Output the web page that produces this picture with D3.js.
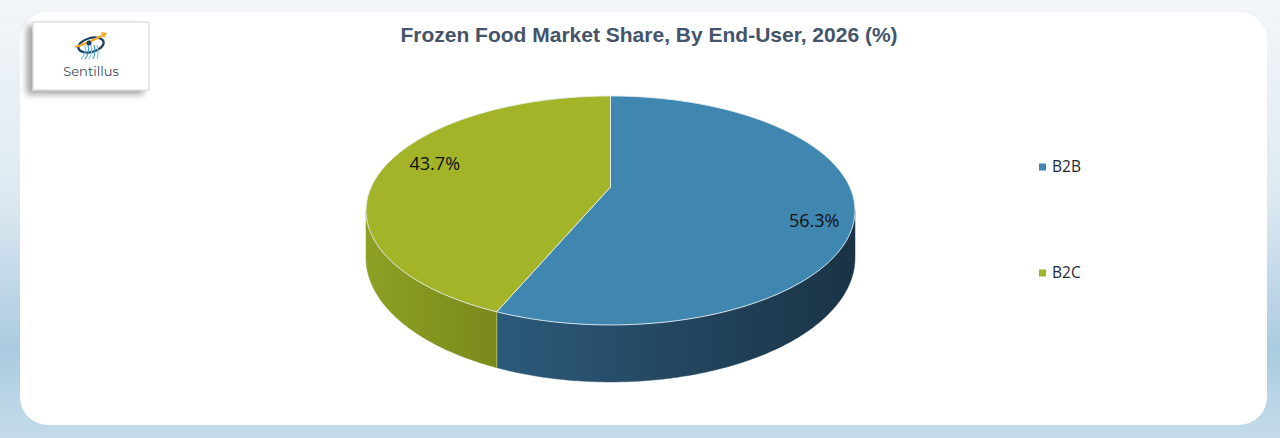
<!DOCTYPE html>
<html>
<head>
<meta charset="utf-8">
<script src="https://cdn.jsdelivr.net/npm/d3@7"></script>
<style>
  body { margin: 0; background: #fff; }
  svg { display: block; }
</style>
</head>
<body>
<div id="chart"></div>
<script>
const categories = ["B2B", "B2C"];
const shares = [56.3, 43.7];
const topColors = ["#3f86b0", "#a3b428"];
const sideColorsLight = ["#2c5a7a", "#8ea024"];
const sideColorsDark = ["#1a3346", "#7a891b"];
const title = "Frozen Food Market Share, By End-User, 2026 (%)";

const width = 1280, height = 438;

// perspective view of the pie's top disc: x = cx + a*u*s, y = y0 + e*s, s = 1/(1 - p*v)
const cx = 610.5, a = 239.3, e = 535, y0 = -348, p = 0.205, depth = 45.3;

const svg = d3.select("#chart")
    .append("svg")
    .attr("width", width)
    .attr("height", height);

const defs = svg.append("defs");

// page background
const bg = defs.append("linearGradient").attr("id", "bg").attr("x1", 0).attr("y1", 0).attr("x2", 0).attr("y2", 1);
bg.append("stop").attr("offset", "0%").attr("stop-color", "#f3f6f9");
bg.append("stop").attr("offset", "45%").attr("stop-color", "#dde9f1");
bg.append("stop").attr("offset", "80%").attr("stop-color", "#abcbe0");
bg.append("stop").attr("offset", "100%").attr("stop-color", "#c4dcea");

const shadow = defs.append("filter").attr("id", "shadow").attr("x", "-30%").attr("y", "-30%").attr("width", "160%").attr("height", "160%");
shadow.append("feDropShadow").attr("dx", -6).attr("dy", 4).attr("stdDeviation", 3)
    .attr("flood-color", "#000").attr("flood-opacity", 0.35);

svg.append("rect").attr("width", width).attr("height", height).attr("fill", "url(#bg)");
svg.append("rect")
    .attr("x", 20).attr("y", 12).attr("width", 1247).attr("height", 413)
    .attr("rx", 28).attr("fill", "#fff");

// logo
const logo = svg.append("g");
logo.append("rect")
    .attr("x", 33).attr("y", 22).attr("width", 116).attr("height", 68)
    .attr("fill", "#fff").attr("stroke", "#d0d4d8").attr("stroke-width", 1)
    .attr("filter", "url(#shadow)");
const icon = logo.append("g").attr("transform", "translate(91,45)");
icon.append("ellipse").attr("rx", 13).attr("ry", 7).attr("fill", "none")
    .attr("stroke", "#1f3f5f").attr("stroke-width", 2.2).attr("transform", "rotate(-15)");
icon.append("path").attr("d", "M-16,2 Q-2,-2 14,-11").attr("fill", "none")
    .attr("stroke", "#f0a82a").attr("stroke-width", 2.2);
icon.append("path").attr("d", "M10,-13 L16,-12 L13,-7 Z").attr("fill", "#f0a82a");
[-4, -1, 2, 5, 8].forEach((d, i) => {
    icon.append("path")
        .attr("d", `M${d - 2},0 Q${d},8 ${d - 6 + i},14`)
        .attr("fill", "none").attr("stroke", i % 2 ? "#3aa0d8" : "#7cc4ea").attr("stroke-width", 1.2);
});
icon.append("circle").attr("cx", -2).attr("cy", -2).attr("r", 2.5).attr("fill", "#1f3f5f");
logo.append("text")
    .attr("x", 91).attr("y", 76)
    .attr("text-anchor", "middle")
    .attr("font-family", "Montserrat, 'Open Sans', sans-serif")
    .attr("font-size", 13)
    .attr("fill", "#3a4b5e")
    .text("Sentillus");

// title
svg.append("text")
    .attr("x", 649).attr("y", 42)
    .attr("text-anchor", "middle")
    .attr("font-family", "'Liberation Sans', Arial, sans-serif")
    .attr("font-weight", "bold")
    .attr("font-size", 21)
    .attr("fill", "#44546a")
    .text(title);

// pie layout
const pie = d3.pie().sort(null).startAngle(0).endAngle(2 * Math.PI);
const slices = pie(shares);
const color = d3.scaleOrdinal().domain(categories).range(topColors);

function proj(ang, r, dz) {
    const u = r * Math.sin(ang), v = -r * Math.cos(ang);
    const s = 1 / (1 - p * v);
    return [cx + a * u * s, y0 + e * s + dz * s];
}

function arcPoints(a0, a1, dz) {
    const n = Math.max(2, Math.ceil((a1 - a0) / 0.01));
    return d3.range(n + 1).map(i => proj(a0 + (a1 - a0) * i / n, 1, dz));
}

// limbs of the disc as seen in perspective
const limb0 = Math.acos(-p), limb1 = 2 * Math.PI - limb0;
const split = slices[0].endAngle;

slices.forEach((s, i) => {
    const g = defs.append("linearGradient").attr("id", "side" + i)
        .attr("gradientUnits", "userSpaceOnUse")
        .attr("x1", i === 0 ? proj(split, 1, 0)[0] : proj(limb1, 1, 0)[0]).attr("y1", 0)
        .attr("x2", i === 0 ? proj(limb0, 1, 0)[0] : proj(split, 1, 0)[0]).attr("y2", 0);
    g.append("stop").attr("offset", "0%").attr("stop-color", sideColorsLight[i]);
    g.append("stop").attr("offset", "100%").attr("stop-color", sideColorsDark[i]);
});

const line = d3.line();
const sides = svg.append("g");
slices.forEach((s, i) => {
    const a0 = Math.max(s.startAngle, limb0);
    const a1 = Math.min(s.endAngle, limb1);
    if (a1 <= a0) return;
    const top = arcPoints(a0, a1, 0);
    const bottom = arcPoints(a0, a1, depth).reverse();
    sides.append("path")
        .attr("d", line(top.concat(bottom)) + "Z")
        .attr("fill", "url(#side" + i + ")")
        .attr("stroke", "url(#side" + i + ")")
        .attr("stroke-width", 0.5);
});
// edge between the two side faces
const e0 = proj(split, 1, 0), e1 = proj(split, 1, depth);
sides.append("line")
    .attr("x1", e0[0]).attr("y1", e0[1])
    .attr("x2", e1[0]).attr("y2", e1[1])
    .attr("stroke", "#c9d77a").attr("stroke-width", 0.8).attr("opacity", 0.8);

const tops = svg.append("g");
slices.forEach((s, i) => {
    const pts = [proj(0, 0, 0)].concat(arcPoints(s.startAngle, s.endAngle, 0));
    tops.append("path")
        .attr("d", line(pts) + "Z")
        .attr("fill", color(categories[i]))
        .attr("stroke", "#e6eef2")
        .attr("stroke-width", 0.9)
        .attr("stroke-linejoin", "round");
});

// data labels
const lcx = 624.5, lcy = 192, lrx = 193.5, lry = 145;
svg.append("g").selectAll("text")
    .data(slices)
    .join("text")
    .attr("x", d => lcx + lrx * Math.sin((d.startAngle + d.endAngle) / 2))
    .attr("y", d => lcy - lry * Math.cos((d.startAngle + d.endAngle) / 2))
    .attr("dy", "0.35em")
    .attr("text-anchor", "middle")
    .attr("font-family", "'Open Sans', sans-serif")
    .attr("font-size", 18)
    .attr("fill", "#111")
    .text(d => d.data.toFixed(1) + "%");

// legend
const legendY = d3.scalePoint().domain(categories).range([167, 273]);
const legend = svg.append("g").selectAll("g")
    .data(categories)
    .join("g")
    .attr("transform", d => `translate(1039,${legendY(d)})`);
legend.append("rect")
    .attr("x", 0).attr("y", -3.5).attr("width", 7).attr("height", 7)
    .attr("fill", d => color(d));
legend.append("text")
    .attr("x", 13).attr("y", 0).attr("dy", "0.35em")
    .attr("font-family", "'Open Sans', sans-serif")
    .attr("font-size", 15.5)
    .attr("fill", "#1e2a36")
    .text(d => d);
</script>
</body>
</html>
